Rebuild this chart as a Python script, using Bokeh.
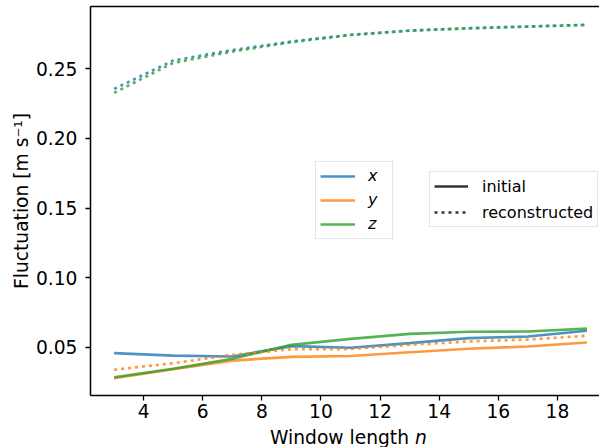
from bokeh.plotting import figure
from bokeh.models import (Range1d, FixedTicker, NumeralTickFormatter, LinearAxis,
                          Legend, LegendItem, ColumnDataSource, Div)
from bokeh.layouts import column
from bokeh.embed import file_html
from bokeh.resources import INLINE

# ---- data ----
n = [3, 5, 7, 9, 11, 13, 15, 17, 19]
x_initial = [0.0457, 0.0440, 0.0433, 0.0508, 0.0496, 0.0529, 0.0565, 0.0577, 0.0618]
y_initial = [0.0277, 0.0342, 0.0404, 0.0431, 0.0437, 0.0464, 0.0489, 0.0505, 0.0534]
z_initial = [0.0284, 0.0345, 0.0417, 0.0517, 0.0560, 0.0596, 0.0611, 0.0613, 0.0634]
x_reconstructed = [0.2356, 0.2560, 0.2635, 0.2696, 0.2745, 0.2775, 0.2792, 0.2804, 0.2816]
y_reconstructed = [0.0338, 0.0385, 0.0445, 0.0485, 0.0487, 0.0517, 0.0541, 0.0555, 0.0582]
z_reconstructed = [0.2328, 0.2543, 0.2624, 0.2692, 0.2743, 0.2774, 0.2791, 0.2804, 0.2816]

x_ticks = [4, 6, 8, 10, 12, 14, 16, 18]
y_ticks = [0.05, 0.10, 0.15, 0.20, 0.25]

component_labels = ["x", "y", "z"]
style_labels = ["initial", "reconstructed"]

colors = {"x": "#1f77b4", "y": "#ff7f0e", "z": "#2ca02c"}

src = ColumnDataSource(dict(n=n, xi=x_initial, yi=y_initial, zi=z_initial,
                            xr=x_reconstructed, yr=y_reconstructed, zr=z_reconstructed))

FONT = "DejaVu Sans"
LW = 2.67
DOT = "3 4"

p = figure(width=599, height=427, output_backend="svg", toolbar_location=None,
           x_range=Range1d(2.2, 19.425), y_range=Range1d(0.0153, 0.2948),
           min_border_left=90, min_border_right=0, min_border_top=6, min_border_bottom=32)
p.grid.visible = False
p.outline_line_color = None
p.background_fill_color = "white"
p.border_fill_color = "white"

for ax in (p.xaxis[0], p.yaxis[0]):
    ax.axis_line_color = "black"
    ax.axis_line_width = 1.5
    ax.major_tick_line_color = "black"
    ax.major_tick_line_width = 1.3
    ax.major_tick_out = 5
    ax.major_tick_in = 0
    ax.minor_tick_out = 0
    ax.minor_tick_in = 0
    ax.major_label_text_font = FONT
    ax.major_label_text_font_size = "18.67px"
    ax.major_label_text_color = "black"
    ax.axis_label_text_font = FONT
    ax.axis_label_text_font_size = "18.67px"
    ax.axis_label_text_font_style = "normal"
    ax.axis_label_text_color = "black"

p.xaxis.ticker = FixedTicker(ticks=x_ticks)
p.xaxis.major_label_standoff = 3
p.yaxis.ticker = FixedTicker(ticks=y_ticks)
p.yaxis.formatter = NumeralTickFormatter(format="0.00")
p.yaxis.major_label_standoff = 8
p.yaxis.axis_label = "Fluctuation [m s\u207b\u00b9]"
p.yaxis.axis_label_standoff = 1

top = LinearAxis(ticker=FixedTicker(ticks=[]), major_tick_out=0, major_tick_in=0,
                 minor_tick_out=0, minor_tick_in=0, major_label_text_font_size="0px",
                 axis_line_color="black", axis_line_width=1.5)
p.add_layout(top, "above")

# lines
r_xi = p.line("n", "xi", source=src, line_color=colors["x"], line_alpha=0.8, line_width=LW)
r_yi = p.line("n", "yi", source=src, line_color=colors["y"], line_alpha=0.8, line_width=LW)
r_zi = p.line("n", "zi", source=src, line_color=colors["z"], line_alpha=0.8, line_width=LW)
p.line("n", "xr", source=src, line_color=colors["x"], line_alpha=0.8, line_width=LW, line_dash=DOT)
p.line("n", "yr", source=src, line_color=colors["y"], line_alpha=0.8, line_width=LW, line_dash=DOT)
p.line("n", "zr", source=src, line_color=colors["z"], line_alpha=0.8, line_width=LW, line_dash=DOT)

# hidden renderers that only provide the style-legend glyphs
r_solid = p.line("n", "yi", source=src, line_color="black", line_alpha=0.8, line_width=LW, visible=False)
r_dot = p.line("n", "yr", source=src, line_color="black", line_alpha=0.8, line_width=LW,
               line_dash=DOT, visible=False)

def style_legend(leg, glyph_w):
    leg.label_text_font = FONT
    leg.label_text_font_size = "16px"
    leg.label_text_color = "black"
    leg.glyph_width = glyph_w
    leg.glyph_height = 20
    leg.label_height = 20
    leg.label_standoff = 13
    leg.padding = 4
    leg.margin = 0
    leg.border_line_color = "#cccccc"
    leg.border_line_width = 1
    leg.background_fill_color = "white"
    leg.background_fill_alpha = 0.8
    leg.inactive_fill_alpha = 0

leg1 = Legend(items=[LegendItem(label=component_labels[0], renderers=[r_xi]),
                     LegendItem(label=component_labels[1], renderers=[r_yi]),
                     LegendItem(label=component_labels[2], renderers=[r_zi])],
              location=(225, 156.5))
style_legend(leg1, 35)
leg1.spacing = 4
leg1.label_text_font_style = "italic"
p.add_layout(leg1)

leg2 = Legend(items=[LegendItem(label=style_labels[0], renderers=[r_solid]),
                     LegendItem(label=style_labels[1], renderers=[r_dot])],
              location=(339, 167.7))
style_legend(leg2, 34)
leg2.spacing = 6
leg2.label_standoff = 14
p.add_layout(leg2)

# x-axis label with italic n, as real HTML text under the plot
xlabel = Div(
    text=('<div style="font-family:\'DejaVu Sans\';font-size:18.67px;line-height:22px;'
          'white-space:nowrap;margin-top:-6px;padding-left:265px;color:black;">'
          'Window length <i>n</i></div>'),
    width=599, height=20, styles={"overflow": "visible"})

layout = column(p, xlabel, spacing=0)

open("out.html", "w").write(file_html(layout, INLINE))
